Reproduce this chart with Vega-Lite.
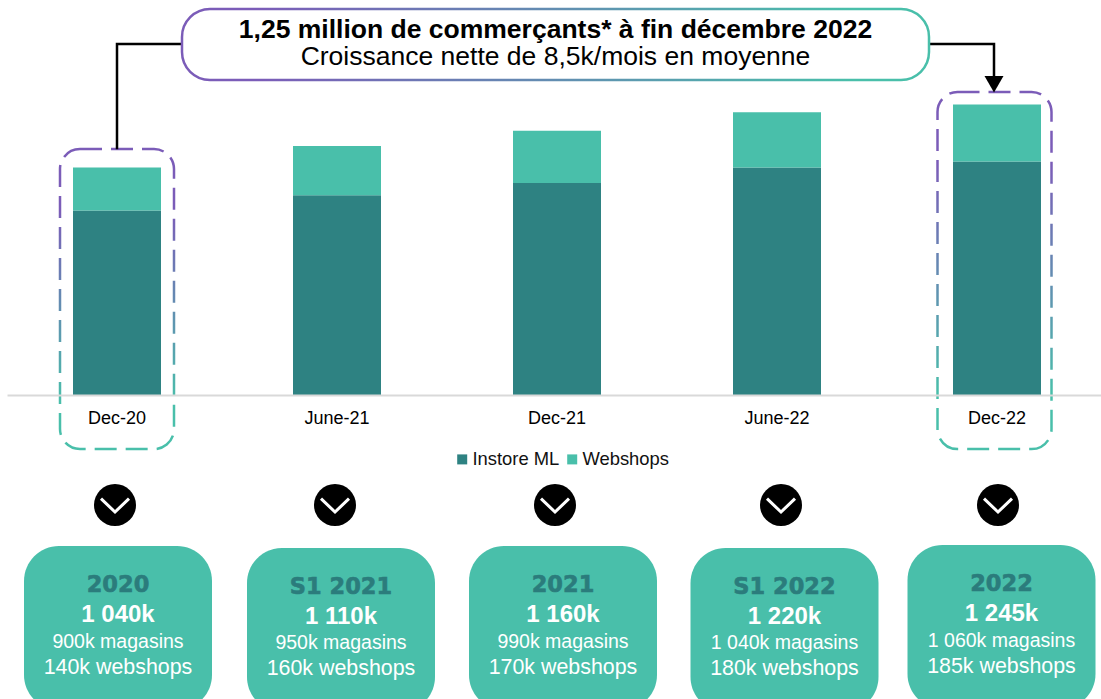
{
"$schema":"https://vega.github.io/schema/vega-lite/v6.json",
"width":1101,"height":699,"padding":0,"autosize":{"type":"none"},"background":"white",
"config":{"view":{"stroke":null},"font":"Liberation Sans"},
"datasets":{
"bars":[
{"period":"Dec-20","series":"Instore ML","start":300,"end":900},
{"period":"Dec-20","series":"Webshops","start":900,"end":1040},
{"period":"June-21","series":"Instore ML","start":300,"end":950},
{"period":"June-21","series":"Webshops","start":950,"end":1110},
{"period":"Dec-21","series":"Instore ML","start":300,"end":990},
{"period":"Dec-21","series":"Webshops","start":990,"end":1160},
{"period":"June-22","series":"Instore ML","start":300,"end":1040},
{"period":"June-22","series":"Webshops","start":1040,"end":1220},
{"period":"Dec-22","series":"Instore ML","start":300,"end":1060},
{"period":"Dec-22","series":"Webshops","start":1060,"end":1245}],
"highlight":[{"period":"Dec-20","top":1100.5},{"period":"Dec-22","top":1286}],
"periods":[{"period":"Dec-20"},{"period":"June-21"},{"period":"Dec-21"},{"period":"June-22"},{"period":"Dec-22"}],
"connectorLeft":[{"period":"Dec-20","v":1100,"o":1},{"period":"Dec-20","v":1442,"o":2},{"period":"Dec-21","v":1442,"o":3}],
"connectorRight":[{"period":"Dec-21","v":1442,"o":1},{"period":"Dec-22","v":1442,"o":2},{"period":"Dec-22","v":1311,"o":3}],
"centre":[{"period":"Dec-21"}],
"arrow":[{"period":"Dec-22"}],
"cards":[
{"period":"Dec-20","role":"title","text":"2020"},{"period":"Dec-20","role":"total","text":"1 040k"},{"period":"Dec-20","role":"stores","text":"900k magasins"},{"period":"Dec-20","role":"web","text":"140k webshops"},
{"period":"June-21","role":"title","text":"S1 2021"},{"period":"June-21","role":"total","text":"1 110k"},{"period":"June-21","role":"stores","text":"950k magasins"},{"period":"June-21","role":"web","text":"160k webshops"},
{"period":"Dec-21","role":"title","text":"2021"},{"period":"Dec-21","role":"total","text":"1 160k"},{"period":"Dec-21","role":"stores","text":"990k magasins"},{"period":"Dec-21","role":"web","text":"170k webshops"},
{"period":"June-22","role":"title","text":"S1 2022"},{"period":"June-22","role":"total","text":"1 220k"},{"period":"June-22","role":"stores","text":"1 040k magasins"},{"period":"June-22","role":"web","text":"180k webshops"},
{"period":"Dec-22","role":"title","text":"2022"},{"period":"Dec-22","role":"total","text":"1 245k"},{"period":"Dec-22","role":"stores","text":"1 060k magasins"},{"period":"Dec-22","role":"web","text":"185k webshops"}]
},
"encoding":{
"x":{"field":"period","type":"nominal","sort":null,"scale":{"domain":["Dec-20","June-21","Dec-21","June-22","Dec-22"],"range":[7,1107],"paddingInner":0.6,"paddingOuter":0.3},
"axis":{"title":null,"offset":-304,"domainColor":"#D9D9D9","domainWidth":2,"ticks":false,"labelAngle":0,"labelPadding":14,"labelFontSize":18,"labelColor":"#000000","labelFont":"Liberation Sans"}}
},
"layer":[
{"encoding":{"y":{"type":"quantitative","scale":{"domain":[-689.3,1585.4],"nice":false,"zero":false},"axis":null}},
"layer":[
{"data":{"name":"highlight"},
"mark":{"type":"rect","width":114,"fill":"transparent","strokeWidth":2.5,"strokeDash":[22,9],"cornerRadius":20,"xOffset":{"expr":"datum.period==='Dec-22'?-2.5:0"},
"stroke":{"gradient":"linear","x1":0,"y1":0,"x2":0,"y2":1,"stops":[{"offset":0.2,"color":"#7B5CB8"},{"offset":0.85,"color":"#49BFAA"}]}},
"encoding":{"y":{"field":"top","type":"quantitative"},"y2":{"datum":124}}},
{"data":{"name":"bars"},
"mark":{"type":"bar","width":88},
"encoding":{
"y":{"field":"end","type":"quantitative"},"y2":{"field":"start"},
"color":{"field":"series","type":"nominal","scale":{"domain":["Instore ML","Webshops"],"range":["#2E8282","#49BFAA"]},
"legend":{"orient":"none","legendX":453,"legendY":450,"direction":"horizontal","title":null,"symbolType":"square","symbolSize":100,"symbolStrokeWidth":0,"labelFontSize":18.4,"labelFont":"Liberation Sans","labelColor":"#111111","columnPadding":3,"labelOffset":1}}}},
{"data":{"name":"connectorLeft"},
"mark":{"type":"line","color":"#000000","strokeWidth":2.5},
"encoding":{"y":{"field":"v","type":"quantitative"},"order":{"field":"o","type":"quantitative"}}},
{"data":{"name":"connectorRight"},
"mark":{"type":"line","color":"#000000","strokeWidth":2.5,"xOffset":-3},
"encoding":{"y":{"field":"v","type":"quantitative"},"order":{"field":"o","type":"quantitative"}}},
{"data":{"name":"arrow"},
"mark":{"type":"point","shape":"triangle-down","filled":true,"color":"#000000","opacity":1,"size":360,"xOffset":-3},
"encoding":{"y":{"datum":1311}}},
{"data":{"name":"centre"},
"mark":{"type":"rect","width":747,"fill":"#FFFFFF","strokeWidth":2.5,"cornerRadius":28,"xOffset":-1.5,
"stroke":{"gradient":"linear","x1":0,"y1":0,"x2":1,"y2":0,"stops":[{"offset":0.1,"color":"#7B5CB8"},{"offset":0.9,"color":"#49BFAA"}]}},
"encoding":{"y":{"datum":1556},"y2":{"datum":1325}}},
{"data":{"name":"centre"},
"mark":{"type":"text","text":"1,25 million de commerçants* à fin décembre 2022","fontWeight":"bold","fontSize":26.5,"color":"#000000","font":"Liberation Sans","baseline":"middle","yOffset":-14,"xOffset":-1.5},
"encoding":{"y":{"datum":1442}}},
{"data":{"name":"centre"},
"mark":{"type":"text","text":"Croissance nette de 8,5k/mois en moyenne","fontSize":26.5,"color":"#000000","font":"Liberation Sans","baseline":"middle","yOffset":13,"xOffset":-1.5},
"encoding":{"y":{"datum":1442}}},
{"data":{"name":"periods"},
"mark":{"type":"point","shape":"circle","filled":true,"color":"#000000","opacity":1,"size":1764,"xOffset":{"expr":"{'Dec-20':-2,'June-21':-2,'Dec-21':-2,'June-22':4,'Dec-22':1}[datum.period]"}},
"encoding":{"y":{"datum":-58}}},
{"data":{"name":"periods"},
"mark":{"type":"point","shape":"M-1,-0.45L0,0.5L1,-0.45","filled":false,"stroke":"#FFFFFF","strokeWidth":3,"opacity":1,"size":784,"xOffset":{"expr":"{'Dec-20':-2,'June-21':-2,'Dec-21':-2,'June-22':4,'Dec-22':1}[datum.period]"}},
"encoding":{"y":{"datum":-58}}},
{"data":{"name":"periods"},
"mark":{"type":"rect","width":188,"fill":"#49BFAA","cornerRadius":35,
"xOffset":{"expr":"{'Dec-20':1,'June-21':4,'Dec-21':6,'June-22':7.5,'Dec-22':4.5}[datum.period]"},
"yOffset":{"expr":"{'Dec-20':0,'June-21':2,'Dec-21':0,'June-22':2,'Dec-22':-1}[datum.period]"},
"y2Offset":{"expr":"{'Dec-20':0,'June-21':2,'Dec-21':0,'June-22':2,'Dec-22':-1}[datum.period]"}},
"encoding":{"y":{"datum":-191.4},"y2":{"datum":-725}}}
]},
{"data":{"name":"cards"},"transform":[{"filter":"datum.role==='title'"}],
"mark":{"type":"text","font":"DejaVu Sans","fontWeight":"bold","fontSize":22.5,"color":"#2B7C7C","stroke":"#2B7C7C","strokeWidth":0.6,"baseline":"middle",
"xOffset":{"expr":"{'Dec-20':1,'June-21':4,'Dec-21':6,'June-22':7.5,'Dec-22':4.5}[datum.period]"},
"yOffset":{"expr":"{'Dec-20':0,'June-21':1.5,'Dec-21':0,'June-22':1.5,'Dec-22':-1}[datum.period]"}},
"encoding":{"text":{"field":"text"},"y":{"field":"role","type":"nominal","sort":null,"axis":null,"scale":{"domain":["title","total","stores","web"],"range":[585,667],"padding":0}}}},
{"data":{"name":"cards"},"transform":[{"filter":"datum.role==='total'"}],
"mark":{"type":"text","font":"Liberation Sans","fontWeight":"bold","fontSize":24,"color":"#FFFFFF","baseline":"middle",
"xOffset":{"expr":"{'Dec-20':1,'June-21':4,'Dec-21':6,'June-22':7.5,'Dec-22':4.5}[datum.period]"},
"yOffset":{"expr":"3+{'Dec-20':0,'June-21':1.5,'Dec-21':0,'June-22':1.5,'Dec-22':-1}[datum.period]"}},
"encoding":{"text":{"field":"text"},"y":{"field":"role","type":"nominal","sort":null,"axis":null,"scale":{"domain":["title","total","stores","web"],"range":[585,667],"padding":0}}}},
{"data":{"name":"cards"},"transform":[{"filter":"datum.role==='stores'||datum.role==='web'"}],
"mark":{"type":"text","font":"Liberation Sans","fontSize":{"expr":"datum.role==='web'?21.4:19.5"},"color":"#FFFFFF","baseline":"middle",
"xOffset":{"expr":"{'Dec-20':1,'June-21':4,'Dec-21':6,'June-22':7.5,'Dec-22':4.5}[datum.period]"},
"yOffset":{"expr":"(datum.role==='stores'?2.3:0.5)+{'Dec-20':0,'June-21':1,'Dec-21':0,'June-22':1.5,'Dec-22':-1}[datum.period]"}},
"encoding":{"text":{"field":"text"},"y":{"field":"role","type":"nominal","sort":null,"axis":null,"scale":{"domain":["title","total","stores","web"],"range":[585,667],"padding":0}}}}
],
"resolve":{"scale":{"y":"independent"}}
}
